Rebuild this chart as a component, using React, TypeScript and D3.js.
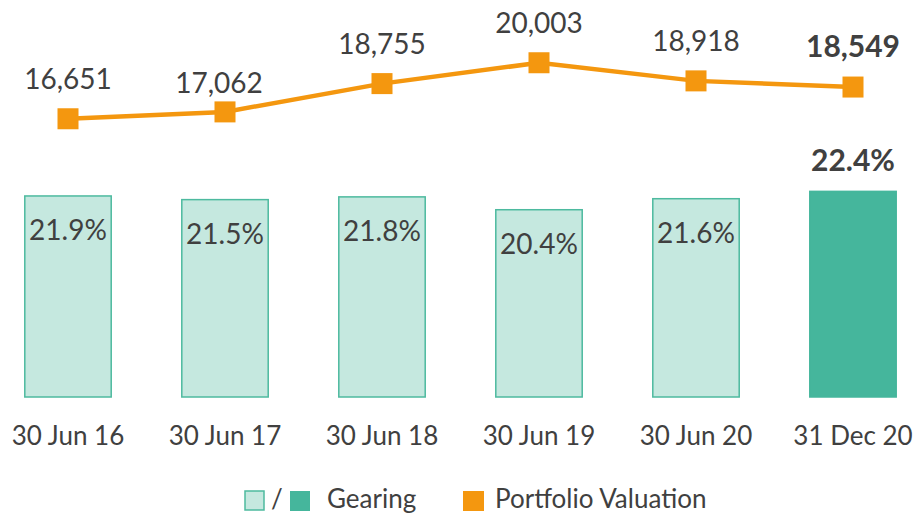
import React from "react";
import * as d3 from "d3";

const categories = ["30 Jun 16", "30 Jun 17", "30 Jun 18", "30 Jun 19", "30 Jun 20", "31 Dec 20"];
const gearing = [21.9, 21.5, 21.8, 20.4, 21.6, 22.4];
const valuation = [16651, 17062, 18755, 20003, 18918, 18549];

const W = 916;
const H = 515;
const FONT = "Lato, 'Open Sans', sans-serif";
const TEXT = "#404040";
const ORANGE = "#F4970F";
const LIGHT = "#C5E8DF";
const DARK = "#45B69C";
const STROKE = "#4DBA9F";

export default function App() {
  const x = d3.scaleBand<string>().domain(categories).range([-10.5, 931.5]).paddingInner(0.44).paddingOuter(0.22);
  const yBar = d3.scaleLinear().domain([0, 30]).range([397, 397 - 30 * 9.18]);
  const yLine = d3.scaleLinear().domain([0, 20000]).range([397, 397 - 20000 * 0.01671]);
  const cx = (c: string) => (x(c) ?? 0) + x.bandwidth() / 2;
  const line = d3.line<number>().x((_, i) => cx(categories[i])).y((v) => yLine(v));
  const last = categories.length - 1;
  const fmt = d3.format(",");
  const ms = 21;

  return (
    <svg width={W} height={H} style={{ position: "absolute", left: 0, top: 0, background: "#fff" }} fontFamily={FONT}>
      {categories.map((c, i) => {
        const top = yBar(gearing[i]);
        const isLast = i === last;
        return (
          <g key={c}>
            <rect
              x={x(c)! + 0.75}
              y={top}
              width={x.bandwidth() - 1.5}
              height={yBar(0) - top}
              fill={isLast ? DARK : LIGHT}
              stroke={isLast ? DARK : STROKE}
              strokeWidth={1.5}
            />
            <text
              x={cx(c)}
              y={isLast ? top - 20 : top + 44}
              textAnchor="middle"
              fontSize={isLast ? 30 : 28}
              fontWeight={isLast ? 700 : 400}
              fill={TEXT}
            >
              {gearing[i].toFixed(1)}%
            </text>
            <text x={cx(c)} y={445} textAnchor="middle" fontSize={26} fill={TEXT}>
              {c}
            </text>
          </g>
        );
      })}
      <path d={line(valuation) ?? ""} fill="none" stroke={ORANGE} strokeWidth={4.5} />
      {categories.map((c, i) => {
        const isLast = i === last;
        const py = yLine(valuation[i]);
        const dy = i === 1 ? -19 : -30;
        const dx = i === 1 ? -6 : 0;
        return (
          <g key={"v" + c}>
            <rect x={cx(c) - ms / 2} y={py - ms / 2} width={ms} height={ms} fill={ORANGE} />
            <text
              x={cx(c) + dx}
              y={py + dy}
              textAnchor="middle"
              fontSize={isLast ? 30 : 28}
              fontWeight={isLast ? 700 : 400}
              fill={TEXT}
            >
              {fmt(valuation[i])}
            </text>
          </g>
        );
      })}
      <g>
        <rect x={245} y={491} width={19} height={19} fill={LIGHT} stroke={STROKE} strokeWidth={1.5} />
        <text x={277} y={508} textAnchor="middle" fontSize={26} fill={TEXT}>/</text>
        <rect x={290} y={491} width={20} height={20} fill={DARK} />
        <text x={327} y={508} fontSize={26} fill={TEXT}>Gearing</text>
        <rect x={463} y={491} width={21} height={20} fill={ORANGE} />
        <text x={495} y={508} fontSize={26} fill={TEXT}>Portfolio Valuation</text>
      </g>
    </svg>
  );
}
